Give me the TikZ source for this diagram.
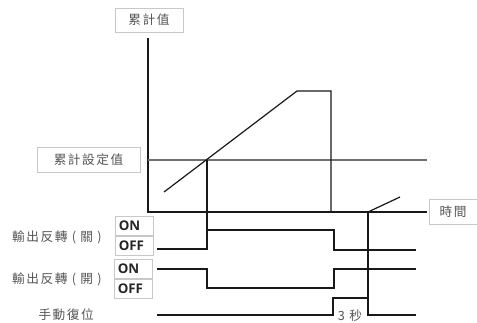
\documentclass[tikz,border=0pt]{standalone}
\usepackage{fontspec}
\newfontfamily\cjk[LetterSpace=12]{Noto Sans CJK TC}
\newfontfamily\onoff{Open Sans}
\definecolor{txtgray}{HTML}{555555}
\definecolor{boxgray}{HTML}{C8C8C8}
\definecolor{linegray}{HTML}{707070}
\begin{document}
\begin{tikzpicture}[x=0.75pt,y=-0.75pt,
  lbox/.style={draw=boxgray,line width=0.6pt,fill=white,inner sep=0pt,font=\cjk\fontsize{9.5}{10}\selectfont,text=txtgray},
  lab/.style={inner sep=0pt,anchor=east,font=\cjk\fontsize{9.5}{10}\selectfont,text=txtgray},
  sbox/.style={draw=boxgray,line width=0.6pt,inner sep=0pt,minimum width=28.5pt,minimum height=15pt},
  stxt/.style={inner sep=0pt,anchor=west,font=\onoff\bfseries\fontsize{10}{11}\selectfont,text=black!85},
  sig/.style={line width=0.9pt,black!90},
  every path/.style={line join=miter}]
\useasboundingbox (0,0) rectangle (477,322);
% axis
\coordinate (ytop) at (148,38);
\coordinate (orig) at (148,212);
\coordinate (xend) at (427,212);
\coordinate (sl) at (148,160);
\coordinate (sr) at (427,160);
\draw[line width=0.9pt,black!90] (ytop) -- (orig) -- (xend);
\draw[line width=0.9pt,linegray] (sl) -- (sr);
% boxes
\node[lbox,minimum width=51pt,minimum height=18pt] (cum) at (149,20) {累計值};
\node[lbox,minimum width=77.25pt,minimum height=18.75pt] (set) at (88.5,159.5) {累計設定值};
\node[lbox,minimum width=36pt,minimum height=18.75pt] (time) at (453,211.5) {時間};
% ramp
\coordinate (r0) at (164,192);
\coordinate (r1) at (297,91);
\coordinate (r2) at (331,91);
\coordinate (r3) at (331,212);
\coordinate (r4) at (368,212);
\coordinate (r5) at (400,197);
\draw[sig] (r0) -- (r1) -- (r2) -- (r3) -- (r4) -- (r5);
% crossing verticals
\coordinate (cx) at (207,160);
\coordinate (cxb) at (207,230);
\draw[sig] (cx) -- (cxb);
\coordinate (rv) at (368,298);
\draw[sig] (r4) -- (rv);
% output 1
\node[sbox] (on1) at (134,226) {};
\node[sbox] (off1) at (134,245.5) {};
\node[stxt] (on1t) at (118.5,226) {ON};
\node[stxt] (off1t) at (118.5,245.5) {OFF};
\node[lab] (l1) at (102,237) {輸出反轉 ( 關 )};
\draw[sig] (157,249) -- (207,249) -- (cxb) -- (334,230) -- (334,250) -- (416,250);
% output 2
\node[sbox] (on2) at (133,269) {};
\node[sbox] (off2) at (133,288.5) {};
\node[stxt] (on2t) at (117.5,269) {ON};
\node[stxt] (off2t) at (117.5,288.5) {OFF};
\node[lab] (l2) at (102,279) {輸出反轉 ( 開 )};
\draw[sig] (157,269) -- (207,269) -- (207,288) -- (334,288) -- (334,269) -- (416,269);
% manual reset
\node[lab] (l3) at (94,315) {手動復位};
\draw[sig] (157,315) -- (333,315) -- (333,298) -- (rv) -- (368,315) -- (416,315);
\node[lab,anchor=center] (sec) at (350,316) {3 秒};
\end{tikzpicture}
\end{document}
